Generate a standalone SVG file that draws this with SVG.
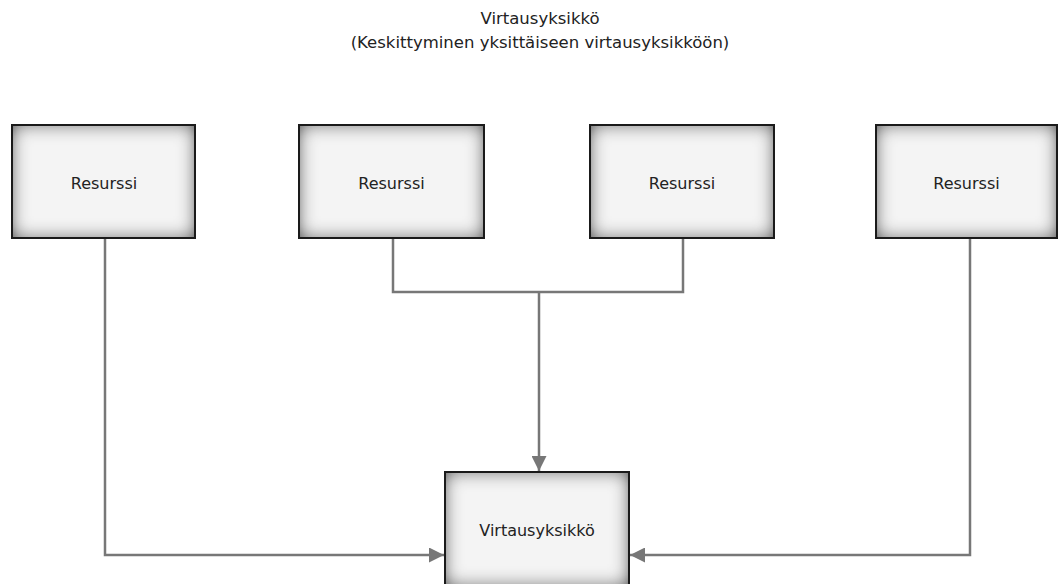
<svg xmlns="http://www.w3.org/2000/svg" width="1058" height="584" viewBox="0 0 1058 584">
<style>
.box{fill:#f4f4f4;filter:url(#inner)}
.edge{fill:none;stroke:#1a1a1a;stroke-width:2}
.lbl{font-family:"DejaVu Sans",sans-serif;font-size:16px;fill:#222;text-anchor:middle;dominant-baseline:central}
.ttl{font-family:"DejaVu Sans",sans-serif;font-size:16.5px;fill:#222;text-anchor:middle}
.con{fill:none;stroke:#777;stroke-width:2.5}
</style>
<defs>
<filter id="inner" x="-10%" y="-10%" width="120%" height="120%">
<feComponentTransfer in="SourceAlpha" result="inv"><feFuncA type="table" tableValues="1 0"/></feComponentTransfer>
<feGaussianBlur in="inv" stdDeviation="9" result="blur"/>
<feComponentTransfer in="blur" result="blur2"><feFuncA type="linear" slope="1.4" intercept="0"/></feComponentTransfer>
<feFlood flood-color="#000" flood-opacity="0.85"/>
<feComposite in2="blur2" operator="in" result="sh"/>
<feComposite in="sh" in2="SourceAlpha" operator="in" result="ish"/>
<feMerge><feMergeNode in="SourceGraphic"/><feMergeNode in="ish"/></feMerge>
</filter>
<marker id="arr" viewBox="0 0 10 10" refX="10" refY="5" markerWidth="6" markerHeight="6" markerUnits="strokeWidth" orient="auto">
<path d="M0,0 L10,5 L0,10 z" fill="#777"/>
</marker>
</defs>
<text class="ttl" x="540" y="24">Virtausyksikkö</text>
<text class="ttl" x="540" y="48">(Keskittyminen yksittäiseen virtausyksikköön)</text>
<g id="connectors">
<path class="con" d="M105,238 V555 H444" marker-end="url(#arr)"/>
<path class="con" d="M970,238 V555 H630" marker-end="url(#arr)"/>
<path class="con" d="M393,238 V292 H683 V238"/>
<path class="con" d="M539,292 V471" marker-end="url(#arr)"/>
</g>
<g id="r1"><rect class="box" x="12" y="125" width="183" height="113"/><rect class="edge" x="12" y="125" width="183" height="113"/><text class="lbl" x="104" y="183">Resurssi</text></g>
<g id="r2"><rect class="box" x="299" y="125" width="185" height="113"/><rect class="edge" x="299" y="125" width="185" height="113"/><text class="lbl" x="391.5" y="183">Resurssi</text></g>
<g id="r3"><rect class="box" x="590" y="125" width="184" height="113"/><rect class="edge" x="590" y="125" width="184" height="113"/><text class="lbl" x="682" y="183">Resurssi</text></g>
<g id="r4"><rect class="box" x="876" y="125" width="181" height="113"/><rect class="edge" x="876" y="125" width="181" height="113"/><text class="lbl" x="966.5" y="183">Resurssi</text></g>
<g id="v"><rect class="box" x="445" y="472" width="184" height="114"/><rect class="edge" x="445" y="472" width="184" height="114"/><text class="lbl" x="537" y="530">Virtausyksikkö</text></g>
</svg>
